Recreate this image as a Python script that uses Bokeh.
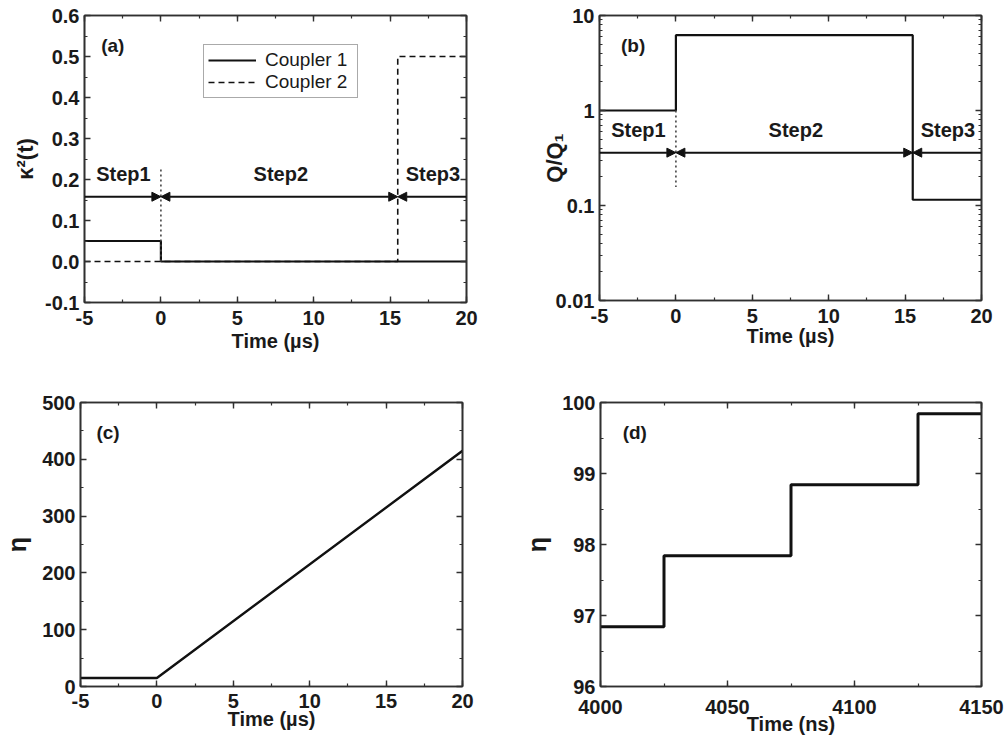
from bokeh.plotting import figure
from bokeh.layouts import column, row
from bokeh.models import (LinearAxis, LogAxis, SingleIntervalTicker, LogTicker, FixedTicker, Arrow,
                          NormalHead, Legend, LegendItem, CustomJSTickFormatter, Range1d,
                          ColumnDataSource)
from bokeh.core.properties import value
from bokeh.embed import file_html
from bokeh.resources import INLINE

FONT = "Liberation Sans"
INK = "#111111"
AX = "#303030"

# ---------------- data ----------------
time_range_us = [-5, 20]
step_times_us = [0.0, 15.5]
step_labels = ["Step1", "Step2", "Step3"]

# (a) coupling coefficients
c1_t = [-5, 0, 0, 20]
c1_k2 = [0.05, 0.05, 0.0, 0.0]
c2_t = [-5, 15.5, 15.5, 20]
c2_k2 = [0.0, 0.0, 0.5, 0.5]
k2_range = [-0.1, 0.6]
k2_ticks = [-0.1, 0.0, 0.1, 0.2, 0.3, 0.4, 0.5, 0.6]
k2_minor = [-0.05, 0.05, 0.15, 0.25, 0.35, 0.45, 0.55]
k2_arrow_level = 0.158
k2_marker_top = 0.225

# (b) Q / Q1
q_t = [-5, 0, 0, 15.5, 15.5, 20]
q_ratio = [1.0, 1.0, 6.2, 6.2, 0.115, 0.115]
q_range = [0.01, 10]
q_arrow_level = 0.36
q_marker = [1.0, 0.157]
q_label_level = 0.62

# (c) eta vs time (us)
eta_t = [-5, 0, 20]
eta = [15, 15, 415]
eta_range = [0, 500]

# (d) eta vs time (ns)
eta_ns_t = [4000, 4025, 4025, 4075, 4075, 4125, 4125, 4150]
eta_ns = [96.84, 96.84, 97.84, 97.84, 98.84, 98.84, 99.84, 99.84]
ns_range = [4000, 4150]
eta_ns_range = [96, 100]

TICK_PX = "20px"
PLAIN = "return Number(tick.toPrecision(6)).toString();"


def style_axis(ax, show=True, label_px=TICK_PX):
    ax.axis_line_color = AX
    ax.axis_line_width = 1.6
    ax.major_tick_in = 6
    ax.major_tick_out = 0
    ax.minor_tick_in = 3
    ax.minor_tick_out = 0
    ax.major_tick_line_color = AX
    ax.major_tick_line_width = 1.4
    ax.minor_tick_line_color = AX
    ax.minor_tick_line_width = 1.2
    if show:
        ax.major_label_text_font = FONT
        ax.major_label_text_font_style = "bold"
        ax.major_label_text_font_size = TICK_PX
        ax.major_label_text_color = "#1a1a1a"
        ax.axis_label_text_font = FONT
        ax.axis_label_text_font_style = "bold"
        ax.axis_label_text_font_size = label_px
        ax.axis_label_text_color = "#1a1a1a"
    else:
        ax.formatter = CustomJSTickFormatter(code="return '';")
        ax.major_label_text_font_size = "1px"
        ax.major_label_text_color = None
        ax.major_label_standoff = 0
        ax.axis_label = None


def make_fig(xr, yr, borders, frame, xticker, yticker, xlabel, ylabel,
             y_log=False, yfmt=PLAIN, xstand=(5, 0), ystand=(5, 5), ylabel_px=TICK_PX):
    left, right, top, bottom = borders
    p = figure(x_range=Range1d(*xr), y_range=Range1d(*yr),
               y_axis_type="log" if y_log else "linear",
               frame_width=frame[0], frame_height=frame[1],
               min_border_left=left, min_border_right=right,
               min_border_top=top, min_border_bottom=bottom,
               output_backend="svg", toolbar_location=None,
               background_fill_color="white", border_fill_color="white")
    p.grid.visible = False
    p.outline_line_color = AX
    p.outline_line_width = 1.6
    p.xaxis.ticker = xticker
    p.yaxis.ticker = yticker
    p.xaxis.axis_label = xlabel
    p.yaxis.axis_label = ylabel
    p.xaxis.formatter = CustomJSTickFormatter(code=PLAIN)
    p.yaxis.formatter = CustomJSTickFormatter(code=yfmt)
    for ax in p.xaxis:
        style_axis(ax)
        ax.major_label_standoff = xstand[0]
        ax.axis_label_standoff = xstand[1]
    for ax in p.yaxis:
        style_axis(ax, label_px=ylabel_px)
        ax.major_label_standoff = ystand[0]
        ax.axis_label_standoff = ystand[1]
    top_ax = LinearAxis(ticker=xticker)
    style_axis(top_ax, show=False)
    p.add_layout(top_ax, "above")
    right_ax = LogAxis(ticker=yticker) if y_log else LinearAxis(ticker=yticker)
    style_axis(right_ax, show=False)
    p.add_layout(right_ax, "right")
    return p


def add_text(p, xs, ys, texts, size="20px"):
    src = ColumnDataSource(dict(x=xs, y=ys, t=texts))
    p.text(x="x", y="y", text="t", source=src, text_font=value(FONT),
           text_font_style="bold", text_font_size=size, text_color="#1a1a1a",
           text_align="center", text_baseline="middle")


def add_step_arrows(p, level):
    bounds = [time_range_us[0]] + step_times_us + [time_range_us[1]]
    def head():
        return NormalHead(size=9, fill_color=INK, line_color=INK, line_width=1)
    p.add_layout(Arrow(x_start=bounds[0], y_start=level, x_end=bounds[1], y_end=level,
                       start=None, end=head(), line_color=INK, line_width=2))
    p.add_layout(Arrow(x_start=bounds[1], y_start=level, x_end=bounds[2], y_end=level,
                       start=head(), end=head(), line_color=INK, line_width=2))
    p.add_layout(Arrow(x_start=bounds[3], y_start=level, x_end=bounds[2], y_end=level,
                       start=None, end=head(), line_color=INK, line_width=2))
    return [(bounds[i] + bounds[i + 1]) / 2 for i in range(3)]


# ---------------- (a) ----------------
pa = make_fig(time_range_us, k2_range, (84, 37, 13, 66), (382, 287),
              SingleIntervalTicker(interval=5, num_minor_ticks=2),
              FixedTicker(ticks=k2_ticks, minor_ticks=k2_minor),
              "Time (\u00b5s)", "\u03ba\u00b2(t)", yfmt="return tick.toFixed(1);",
              xstand=(8, 2), ystand=(5, 4), ylabel_px="22px")
r1 = pa.line(c1_t, c1_k2, line_color=INK, line_width=2.2)
r2 = pa.line(c2_t, c2_k2, line_color=INK, line_width=1.6, line_dash="6 4")
pa.line([step_times_us[0]] * 2, [0.0, k2_marker_top], line_color="#444444",
        line_width=1.6, line_dash="2 3")
ca = add_step_arrows(pa, k2_arrow_level)
add_text(pa, [ca[0] + 0.05, ca[1] + 0.1, ca[2] + 0.05], [0.214] * 3, step_labels)
add_text(pa, [-3.15], [0.527], ["(a)"], size="19px")
leg = Legend(items=[LegendItem(label="Coupler 1", renderers=[r1]),
                    LegendItem(label="Coupler 2", renderers=[r2])],
             location=(119, 204))
leg.border_line_color = "#555555"
leg.border_line_width = 1
leg.background_fill_color = "white"
leg.label_text_font = FONT
leg.label_text_font_size = "19px"
leg.label_text_color = "#1a1a1a"
leg.glyph_width = 48
leg.glyph_height = 18
leg.label_height = 18
leg.label_width = 88
leg.spacing = 0
leg.padding = 4
leg.margin = 0
leg.label_standoff = 9
pa.add_layout(leg)

# ---------------- (b) ----------------
pb = make_fig(time_range_us, q_range, (96, 17, 15, 66), (382, 285),
              SingleIntervalTicker(interval=5, num_minor_ticks=2),
              LogTicker(num_minor_ticks=10),
              "Time (\u00b5s)", "Q/Q\u2081", y_log=True,
              xstand=(8, -1), ystand=(5, -14), ylabel_px="22px")
pb.line(q_t, q_ratio, line_color=INK, line_width=2.2)
pb.line([step_times_us[0]] * 2, q_marker, line_color="#444444", line_width=1.6, line_dash="2 3")
cb = add_step_arrows(pb, q_arrow_level)
add_text(pb, [cb[0] + 0.05, cb[1] + 0.1, cb[2] + 0.05], [q_label_level] * 3, step_labels)
add_text(pb, [-2.8], [4.8], ["(b)"], size="19px")

# ---------------- (c) ----------------
pc = make_fig(time_range_us, eta_range, (79, 42, 36, 52), (382, 284),
              SingleIntervalTicker(interval=5, num_minor_ticks=2),
              SingleIntervalTicker(interval=100, num_minor_ticks=2),
              "Time (\u00b5s)", "\u03b7", xstand=(7, -3), ystand=(5, 8), ylabel_px="25px")
pc.line(eta_t, eta, line_color=INK, line_width=2.4)
add_text(pc, [-3.2], [447], ["(c)"], size="19px")

# ---------------- (d) ----------------
pd_ = make_fig(ns_range, eta_ns_range, (96, 24, 36, 52), (381, 284),
               SingleIntervalTicker(interval=50, num_minor_ticks=2),
               SingleIntervalTicker(interval=1, num_minor_ticks=2),
               "Time (ns)", "\u03b7", xstand=(13, -4), ystand=(5, 8), ylabel_px="25px")
pd_.line(eta_ns_t, eta_ns, line_color=INK, line_width=3)
add_text(pd_, [4013.5], [99.58], ["(d)"], size="19px")

layout = column(row(pa, pb), row(pc, pd_))
open("out.html", "w").write(file_html(layout, INLINE))
